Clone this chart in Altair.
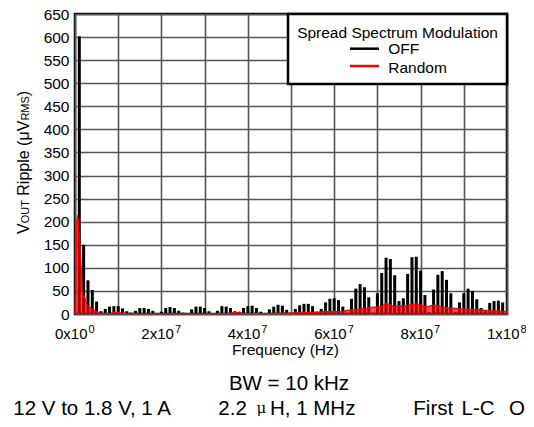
import altair as alt
import pandas as pd

# ---------------- data ----------------
# OFF: discrete harmonics of the 1 MHz switching frequency (MHz, uV rms)
off_mhz = list(range(1, 100))
off_uv = [
    602, 150, 73, 52, 27, 6, 11, 16, 17, 17,
    12, 6, 3, 7, 13, 13, 11, 7, 2, 5,
    13, 15, 13, 7, 3, 2, 10, 16, 16, 13,
    6, 2, 7, 17, 16, 13, 6, 5, 13, 17,
    18, 13, 5, 2, 10, 16, 20, 18, 9, 3,
    11, 19, 22, 22, 17, 5, 11, 25, 33, 34,
    30, 16, 3, 33, 55, 65, 58, 36, 3, 45,
    89, 122, 119, 84, 28, 34, 87, 123, 124, 94,
    41, 4, 53, 85, 93, 74, 45, 4, 25, 45,
    55, 50, 32, 13, 8, 24, 28, 29, 25,
]

# Random spread spectrum: continuous spectrum (MHz, uV rms)
rnd_mhz = [0, 0.15, 0.3, 0.45, 0.6, 0.75, 0.9, 1.05, 1.2, 1.35, 1.5, 1.6, 1.75,
           2.0, 2.3, 2.6, 2.9, 3.3, 3.8, 4.3, 4.8, 5.3, 6, 8, 9, 10, 11, 12,
           20, 30, 35, 37, 38, 39, 44, 48, 50, 52, 54, 56, 58, 60, 62, 63,
           64, 65, 66, 67, 68, 69, 70, 71, 72, 73, 74, 75, 76, 77, 78, 79,
           80, 81, 82, 83, 84, 85, 86, 87, 88, 89, 90, 91, 92, 93, 94, 95,
           96, 97, 98, 99, 100]
rnd_uv = [0, 60, 150, 205, 212, 208, 185, 165, 140, 115, 90, 55, 42,
          40, 35, 25, 18, 15, 12, 9, 6, 3, 1.5, 1, 3, 3, 2, 0.5,
          0.5, 0.5, 1, 3, 3, 1, 1, 2, 2, 3, 3, 4, 5, 5, 6, 8,
          9, 10, 11, 12, 14, 15, 15, 17, 23, 20, 16, 18, 17, 19, 21, 22,
          20, 16, 17, 19, 18, 15, 14, 13, 12, 11, 11, 10, 10, 9, 9, 8,
          8, 7, 7, 6, 5]

tick_hz = [0, 2e7, 4e7, 6e7, 8e7, 1e8]
tick_base = ["0x10", "2x10", "4x10", "6x10", "8x10", "1x10"]
tick_exp = ["0", "7", "7", "7", "7", "8"]

grid_hz = [i * 1e7 for i in range(11)]
y_ticks = list(range(0, 651, 50))

FONT = "Liberation Sans"

# ---------------- frames ----------------
off_df = pd.DataFrame({"f": [m * 1e6 for m in off_mhz], "v": off_uv, "z": [0] * len(off_uv)})
rnd_df = pd.DataFrame({"f": [m * 1e6 for m in rnd_mhz], "v": rnd_uv})
tick_df = pd.DataFrame({"f": tick_hz, "b": tick_base, "e": tick_exp})
one = pd.DataFrame({"a": [0]})

xs = alt.Scale(domain=[0, 1e8], nice=False, zero=True)
ys = alt.Scale(domain=[0, 650], nice=False)

x_axis = alt.Axis(values=grid_hz, labels=False, ticks=False, domain=False, grid=True,
                  title="Frequency (Hz)", titleFontSize=15.5, titleFontWeight="normal",
                  titleFont=FONT, titleColor="black", titleX=210, titleY=40,
                  titleAlign="center", titleBaseline="alphabetic")
y_axis = alt.Axis(values=y_ticks, title=None, ticks=False, domain=False, grid=True,
                  labelFontSize=15.5, labelPadding=6, labelColor="black", labelFont=FONT,
                  labelOverlap=False, tickCount=14)

X = alt.X("f:Q", scale=xs, axis=x_axis)
Y = alt.Y("v:Q", scale=ys, axis=y_axis)

bars = alt.Chart(off_df).mark_rule(color="black", strokeWidth=3, strokeCap="butt").encode(
    x=X, y=Y, y2="z:Q",
)

area = alt.Chart(rnd_df).mark_area(color="#ff0000", line={"color": "#ff0000", "strokeWidth": 1.2}).encode(
    x=X, y=Y,
)

lab_base = alt.Chart(tick_df).mark_text(align="right", baseline="alphabetic", dx=12.5,
                                        fontSize=15, font=FONT, color="black").encode(
    x=X, y=alt.value(324.7), text="b:N")
lab_exp = alt.Chart(tick_df).mark_text(align="left", baseline="alphabetic", dx=13.5,
                                       fontSize=11, font=FONT, color="black").encode(
    x=X, y=alt.value(318.7), text="e:N")


def txt(s, x, y, size=15, align="left", angle=0, font=FONT):
    kw = dict(text=s, align=align, baseline="alphabetic", fontSize=size, font=font, color="black")
    if angle:
        kw["angle"] = angle
    return alt.Chart(one).mark_text(**kw).encode(x=alt.value(x), y=alt.value(y))


# legend box
leg_box = alt.Chart(one).mark_rect(fill="white", stroke="black", strokeWidth=2.5).encode(
    x=alt.value(213), x2=alt.value(432), y=alt.value(0), y2=alt.value(70))
leg_off = alt.Chart(one).mark_rule(color="black", strokeWidth=2.5).encode(
    x=alt.value(275), x2=alt.value(304), y=alt.value(34.7))
leg_rnd = alt.Chart(one).mark_rule(color="#ff0000", strokeWidth=2.5).encode(
    x=alt.value(275), x2=alt.value(304), y=alt.value(52))
leg_texts = [
    txt("Spread Spectrum Modulation", 322.5, 23.7, 15.5, "center"),
    txt("OFF", 313.3, 40.3, 15.5),
    txt("Random", 313.3, 58.7, 15.5),
]

# y title with subscripts
ytitle = [
    txt("V", -46, 220, 16, angle=270),
    txt("OUT", -46, 209.3, 11, angle=270),
    txt("Ripple (", -46, 181.7, 16, angle=270),
    txt("\u03bcV", -46, 126.5, 16, angle=270),
    txt("RMS", -46, 106.6, 11, angle=270),
    txt(")", -46, 82.2, 16, angle=270),
]

# bottom notes
NB = 401
notes = [
    txt("BW = 10 kHz", 214, 376, 20.5, "center"),
    txt("12 V to 1.8 V, 1 A", -61.7, NB, 20.5),
    txt("2.2", 143.3, NB, 20.5),
    txt("\u03bc", 181.5, NB - 2.2, 15, font="DejaVu Serif"),
    txt("H, 1 MHz", 195, NB, 20.5),
    txt("First", 338.3, NB, 20.5),
    txt("L-C", 386.5, NB, 20.5),
    txt("O", 434, NB, 20.5),
]

chart = alt.layer(
    bars, area, lab_base, lab_exp, leg_box, leg_off, leg_rnd, *leg_texts, *ytitle, *notes
).properties(
    width=432, height=300,
    autosize=alt.AutoSizeParams(type="none"),
    padding={"left": 67, "top": 6, "right": 19, "bottom": 105},
    background="white",
).configure_view(
    stroke="black", strokeWidth=2.5
).configure_axis(
    gridColor="#555555", gridWidth=1.6, gridOpacity=1
)

chart.save("out.html", embed_options={"renderer": "svg", "actions": False})
